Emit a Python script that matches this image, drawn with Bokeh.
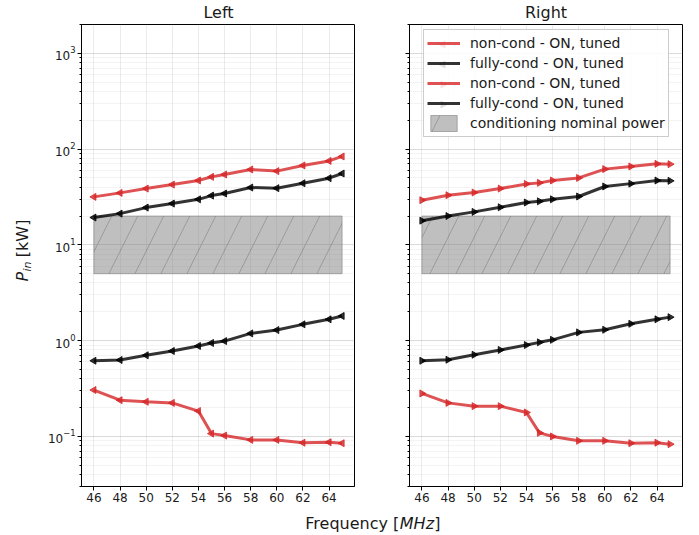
import math
from bokeh.plotting import figure
from bokeh.models import Range1d, FixedTicker, LogTicker, Legend, LegendItem, Label, ColumnDataSource
from bokeh.layouts import row, column
from bokeh.embed import file_html
from bokeh.resources import INLINE

# ---------------- data ----------------
freq = [46, 48, 50, 52, 54, 55, 56, 58, 60, 62, 64, 65]

left_noncond_hi = [31.7, 34.9, 38.7, 42.6, 47.0, 51.3, 54.3, 61.3, 58.9, 67.5, 75.3, 83.8]
left_fullcond_hi = [19.3, 21.2, 24.5, 27.0, 29.9, 32.7, 34.4, 39.7, 39.1, 44.0, 49.7, 55.6]
left_fullcond_lo = [0.617, 0.628, 0.703, 0.78, 0.88, 0.946, 0.99, 1.19, 1.29, 1.48, 1.67, 1.81]
left_noncond_lo = [0.305, 0.239, 0.230, 0.224, 0.184, 0.107, 0.102, 0.092, 0.092, 0.086, 0.087, 0.085]

right_noncond_hi = [29.3, 33.0, 35.2, 38.7, 43.3, 44.4, 47.0, 50.0, 61.8, 65.9, 70.2, 69.6]
right_fullcond_hi = [17.9, 20.0, 22.1, 24.7, 27.7, 28.5, 29.9, 32.0, 40.7, 43.6, 47.0, 46.6]
right_fullcond_lo = [0.617, 0.632, 0.713, 0.80, 0.90, 0.96, 1.02, 1.22, 1.30, 1.50, 1.67, 1.76]
right_noncond_lo = [0.281, 0.224, 0.207, 0.207, 0.178, 0.109, 0.100, 0.090, 0.090, 0.085, 0.086, 0.083]

band_freq = [46, 65]
band_power = [5, 20]

x_ticks = [46, 48, 50, 52, 54, 56, 58, 60, 62, 64]
titles = ["Left", "Right"]
legend_labels = ["non-cond - ON, tuned", "fully-cond - ON, tuned",
                 "non-cond - ON, tuned", "fully-cond - ON, tuned",
                 "conditioning nominal power"]

# ---------------- style / layout ----------------
FONT = "DejaVu Sans"
RED = "#d62728"
BLK = "#000000"
ALPHA = 0.8
TXT = "#1a1a1a"
X0, X1 = 45.05, 65.95
Y0, Y1 = 0.03, 2000
PANEL_H = 483
FRAME_W, FRAME_H = 273, 462
LEFT_ANG = math.pi / 2
RIGHT_ANG = -math.pi / 2

# legend geometry (screen px inside the right frame)
LEG_X, LEG_Y = 14, 7
LEG_PAD, LEG_GLYPH_W, LEG_ROW_H = 3, 33, 20
LEG_H = 2 * LEG_PAD + 5 * LEG_ROW_H


def style_panel(p, show_ylabels):
    p.outline_line_color = "black"
    p.outline_line_alpha = 1.0
    p.xaxis.ticker = FixedTicker(ticks=x_ticks)
    p.yaxis.ticker = LogTicker(desired_num_ticks=6, num_minor_ticks=10)
    for ax in (p.xaxis, p.yaxis):
        ax.axis_line_color = "black"
        ax.major_tick_line_color = "black"
        ax.minor_tick_line_color = "black"
        ax.major_tick_in = 0
        ax.major_tick_out = 4
        ax.minor_tick_in = 0
        ax.minor_tick_out = 2
        ax.major_label_text_font = FONT
        ax.major_label_text_font_size = "12px"
        ax.major_label_text_color = TXT
        ax.major_label_standoff = 2
    p.xaxis.minor_tick_line_color = None
    if not show_ylabels:
        p.yaxis.major_label_text_color = None
    p.xgrid.grid_line_color = "#b0b0b0"
    p.xgrid.grid_line_alpha = 0.25
    p.ygrid.grid_line_color = "#b0b0b0"
    p.ygrid.grid_line_alpha = 0.25
    p.ygrid.minor_grid_line_color = "#b0b0b0"
    p.ygrid.minor_grid_line_alpha = 0.15


def make_panel(width, bl, br, show_ylabels):
    p = figure(width=width, height=PANEL_H, x_range=Range1d(X0, X1),
               y_range=Range1d(Y0, Y1), y_axis_type="log",
               output_backend="svg", toolbar_location=None,
               min_border_left=bl, min_border_right=br,
               min_border_top=1, min_border_bottom=20)
    style_panel(p, show_ylabels)
    return p


def add_band(p):
    src = ColumnDataSource(dict(left=[band_freq[0]], right=[band_freq[1]],
                                bottom=[band_power[0]], top=[band_power[1]]))
    return p.quad(left="left", right="right", bottom="bottom", top="top", source=src,
                  fill_color="gray", fill_alpha=0.5, line_color="gray", line_alpha=0.6,
                  hatch_pattern="/", hatch_color="#555555", hatch_alpha=0.35,
                  hatch_scale=52, hatch_weight=1)


def add_series(p, xs, ys, color, angle):
    src = ColumnDataSource(dict(x=xs, y=ys))
    l = p.line("x", "y", source=src, line_color=color, line_alpha=ALPHA, line_width=3)
    s = p.scatter("x", "y", source=src, marker="triangle", size=7, angle=angle,
                  fill_color=color, line_color=color, fill_alpha=ALPHA, line_alpha=ALPHA)
    return [l, s]


def legend_line_proxy(p, color):
    # a line renderer with no visible data, used only for its legend glyph
    src = ColumnDataSource(dict(x=[30.0, 31.0], y=[1e-4, 1e-4]))
    return p.line("x", "y", source=src, line_color=color, line_alpha=ALPHA, line_width=3)


def screen_to_data(sx, sy):
    x = X0 + sx / FRAME_W * (X1 - X0)
    ly = math.log10(Y1) - sy / FRAME_H * (math.log10(Y1) - math.log10(Y0))
    return x, 10 ** ly


p1 = make_panel(321, 43, 5, True)
add_band(p1)
add_series(p1, freq, left_noncond_hi, RED, LEFT_ANG)
add_series(p1, freq, left_fullcond_hi, BLK, LEFT_ANG)
add_series(p1, freq, left_fullcond_lo, BLK, LEFT_ANG)
add_series(p1, freq, left_noncond_lo, RED, LEFT_ANG)

p2 = make_panel(332, 50, 9, False)
band2 = add_band(p2)
add_series(p2, freq, right_noncond_hi, RED, RIGHT_ANG)
add_series(p2, freq, right_fullcond_hi, BLK, RIGHT_ANG)
add_series(p2, freq, right_fullcond_lo, BLK, RIGHT_ANG)
add_series(p2, freq, right_noncond_lo, RED, RIGHT_ANG)

leg_colors = [RED, BLK, RED, BLK]
leg_angles = [LEFT_ANG, LEFT_ANG, RIGHT_ANG, RIGHT_ANG]
items = []
for i in range(4):
    items.append(LegendItem(label=legend_labels[i], renderers=[legend_line_proxy(p2, leg_colors[i])]))
items.append(LegendItem(label=legend_labels[4], renderers=[band2]))

legend = Legend(items=items, location=(LEG_X, FRAME_H - LEG_Y - LEG_H))
legend.label_text_font = FONT
legend.label_text_font_size = "14px"
legend.label_text_color = TXT
legend.glyph_width = LEG_GLYPH_W
legend.glyph_height = LEG_ROW_H
legend.label_height = LEG_ROW_H
legend.label_standoff = 10
legend.spacing = 0
legend.padding = LEG_PAD
legend.margin = 0
legend.border_line_color = "#cccccc"
legend.border_line_alpha = 1.0
legend.background_fill_alpha = 0.85
p2.add_layout(legend)

# direction-aware triangle markers drawn over the legend glyph lines
mk_x, mk_y = [], []
for i in range(4):
    sx = LEG_X + LEG_PAD + LEG_GLYPH_W / 2
    sy = LEG_Y + LEG_PAD + LEG_ROW_H * (i + 0.5)
    dx, dy = screen_to_data(sx, sy)
    mk_x.append(dx)
    mk_y.append(dy)
mk_src = ColumnDataSource(dict(x=mk_x, y=mk_y, c=leg_colors, a=leg_angles))
p2.scatter("x", "y", source=mk_src, marker="triangle", size=7, angle="a",
           fill_color="c", line_color="c", fill_alpha=ALPHA, line_alpha=ALPHA, level="overlay")


def text_fig(w, h):
    f = figure(width=w, height=h, x_range=Range1d(0, w), y_range=Range1d(0, h),
               output_backend="svg", toolbar_location=None,
               x_axis_location=None, y_axis_location=None,
               min_border_left=0, min_border_right=0, min_border_top=0, min_border_bottom=0)
    f.grid.visible = False
    f.outline_line_color = None
    return f


def txt(f, x, y, s, size="16px", style="normal", align="center", angle=0.0):
    f.add_layout(Label(x=x, y=y, text=s, angle=angle, text_align=align, text_baseline="middle",
                       text_font=FONT, text_font_style=style, text_font_size=size,
                       text_color=TXT))


# titles (fig y measured from the bottom)
tf = text_fig(691, 23)
txt(tf, 218, 11.2, titles[0])
txt(tf, 545.5, 11.2, titles[1])

# y label (rotated pieces, centred)
yf = text_fig(38, PANEL_H)
txt(yf, 22, 219.3, "P", style="italic", angle=math.pi / 2)
txt(yf, 27.2, 230, "in", size="11px", style="italic", angle=math.pi / 2)
txt(yf, 22, 259.4, "[kW]", angle=math.pi / 2)

# x label
xf = text_fig(691, 29)
txt(xf, 398.8, 11.8, "Frequency [", align="right")
txt(xf, 399.3, 11.8, "MHz", style="italic", align="left")
txt(xf, 433.8, 11.8, "]", align="left")

layout = column(tf, row(yf, p1, p2), xf)

open("out.html", "w").write(file_html(layout, INLINE))
